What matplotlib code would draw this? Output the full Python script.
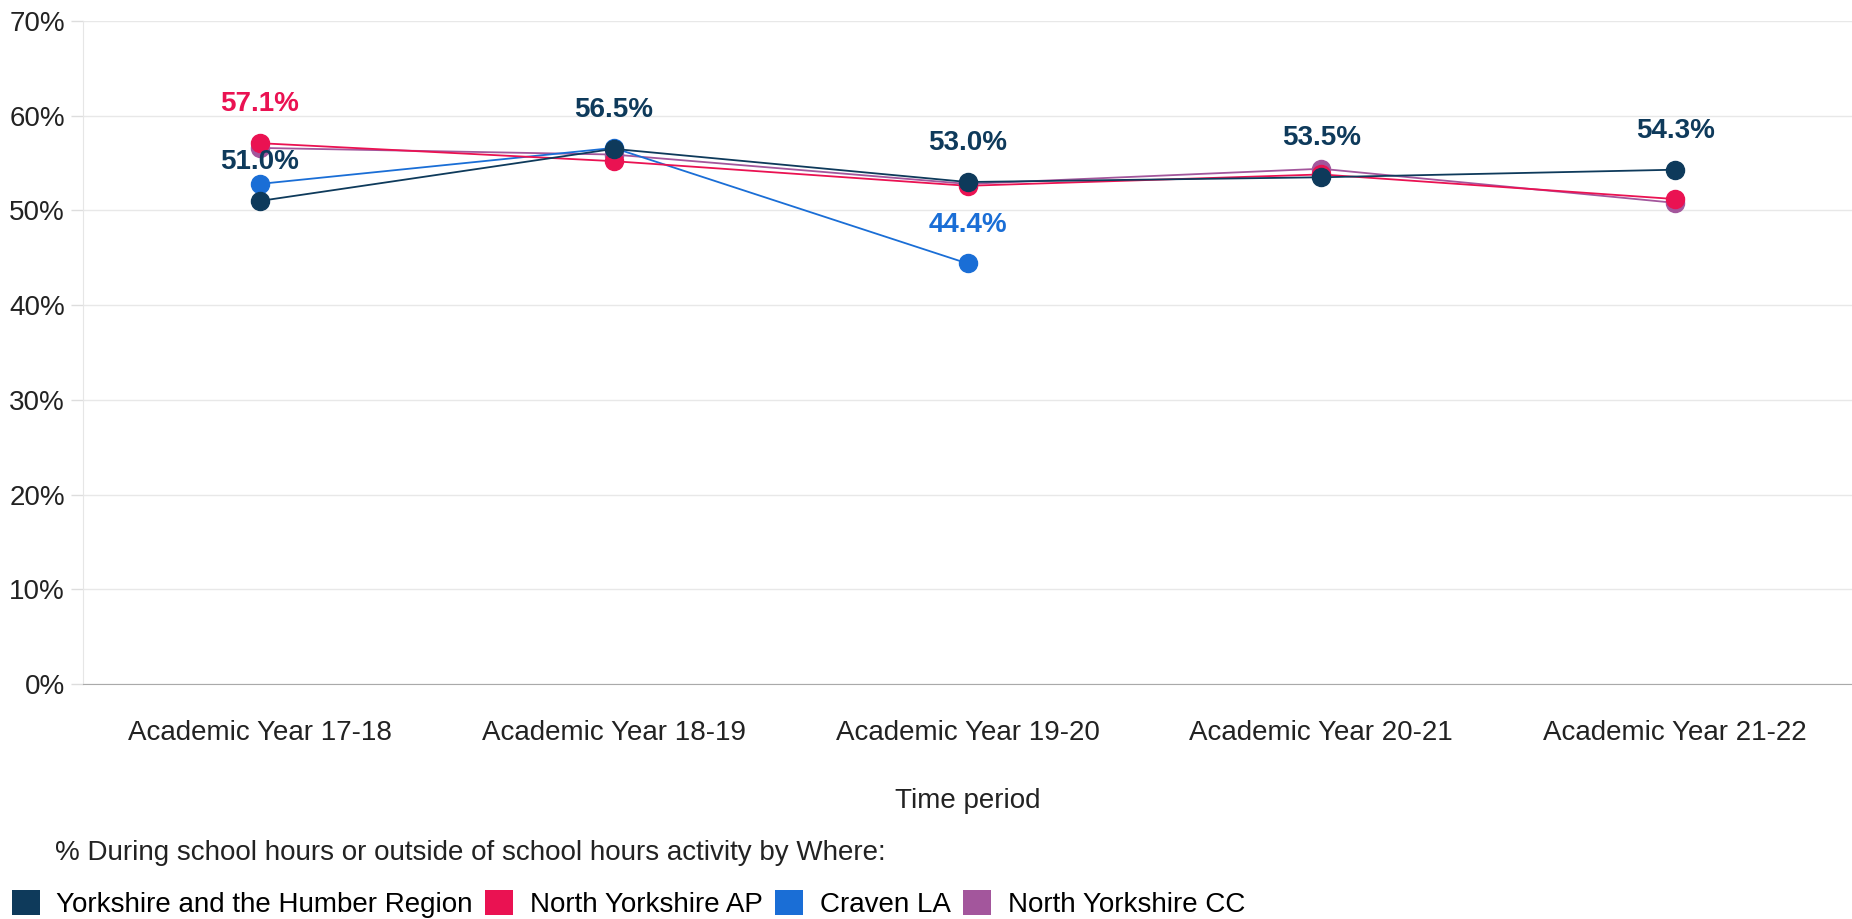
import numpy as np
import matplotlib
matplotlib.use("Agg")
import matplotlib.pyplot as plt
from matplotlib.patches import Patch

plt.rcParams['font.family'] = ['Liberation Sans', 'DejaVu Sans']

# --- data ---
periods = ['Academic Year 17-18', 'Academic Year 18-19', 'Academic Year 19-20',
           'Academic Year 20-21', 'Academic Year 21-22']
series_names = ['Yorkshire and the Humber Region', 'North Yorkshire AP',
                'Craven LA', 'North Yorkshire CC']
yorkshire = [51.0, 56.5, 53.0, 53.5, 54.3]
ny_ap = [57.1, 55.2, 52.6, 53.8, 51.2]
craven = [52.8, 56.6, 44.4, np.nan, np.nan]
ny_cc = [56.6, 55.9, 52.8, 54.4, 50.8]
colors = ['#0e3a5b', '#ea1252', '#1a6ed6', '#a3569c']

# which points carry a value label: (series index, period index)
labelled = [(0, 0), (1, 0), (0, 1), (0, 2), (2, 2), (0, 3), (0, 4)]

all_series = [yorkshire, ny_ap, craven, ny_cc]
FS = 20

fig = plt.figure(figsize=(18.52, 9.19), dpi=100)
ax = fig.add_axes([83 / 1852, 1 - 684 / 919, 1 - 83 / 1852, (684 - 21) / 919])

x = np.arange(len(periods))
# draw last series first so the region line sits on top
for i in reversed(range(len(all_series))):
    ax.plot(x, all_series[i], color=colors[i], lw=1.3, marker='o',
            markersize=13, zorder=3 + (len(all_series) - i))

for si, pi in labelled:
    val = all_series[si][pi]
    ax.annotate(f'{val:.1f}%', (x[pi], val), xytext=(0, 28), textcoords='offset points',
                ha='center', va='center', fontsize=FS, fontweight='bold',
                color=colors[si], zorder=10)

ax.set_xlim(-0.5, 4.5)
ax.set_ylim(0, 70)
ax.set_yticks(range(0, 71, 10))
ax.set_yticklabels([f'{v}%' for v in range(0, 71, 10)])
ax.set_xticks(x)
ax.set_xticklabels(periods)
ax.tick_params(axis='x', length=0, pad=26, labelsize=FS, labelcolor='#222222')
ax.tick_params(axis='y', length=9, width=1, color='#dddddd', pad=4,
               labelsize=FS, labelcolor='#222222')
ax.grid(axis='y', color='#e8e8e8', lw=1)
ax.set_axisbelow(True)
for side in ['top', 'right']:
    ax.spines[side].set_visible(False)
ax.spines['left'].set_color('#e6e6e6')
ax.spines['bottom'].set_color('#aaaaaa')

ax.set_xlabel('Time period', fontsize=FS, color='#222222', labelpad=30)

# legend
fig.text(55 / 1852, 1 - 853 / 919, '% During school hours or outside of school hours activity by Where:',
         fontsize=FS, color='#222222', va='center', ha='left')
handles = [Patch(facecolor=c, edgecolor='none') for c in colors]
fig.legend(handles, series_names, loc='center left', bbox_to_anchor=(12 / 1852, 1 - 904 / 919),
           ncol=4, frameon=False, fontsize=FS, borderpad=0, borderaxespad=0,
           handlelength=1.0, handleheight=1.0, handletextpad=0.6, columnspacing=0.45)

fig.savefig('out.png', dpi=100, facecolor='white')
